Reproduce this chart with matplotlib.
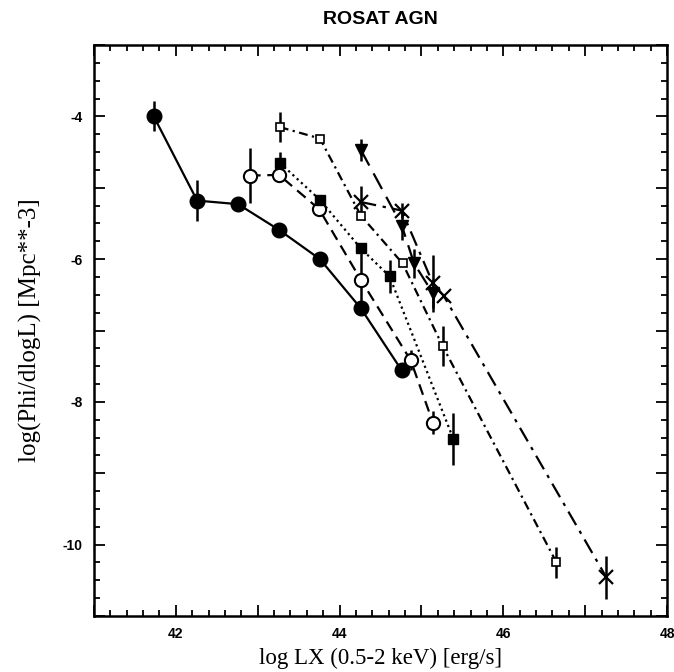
import matplotlib
matplotlib.use("Agg")
import matplotlib.pyplot as plt
from matplotlib.ticker import MultipleLocator, FuncFormatter

# Series 1: filled circles, solid line
x1 = [41.73, 42.26, 42.76, 43.26, 43.76, 44.26, 44.76]
y1 = [-4.00, -5.18, -5.23, -5.59, -6.00, -6.69, -7.56]
e1 = [0.21, 0.29, 0.0, 0.0, 0.0, 0.0, 0.0]

# Series 2: open circles, dashed line
x2 = [42.90, 43.26, 43.75, 44.26, 44.87, 45.14]
y2 = [-4.83, -4.82, -5.30, -6.29, -7.42, -8.29]
e2 = [0.38, 0.0, 0.0, 0.42, 0.14, 0.16]

# Series 3: filled squares, dotted line
x3 = [43.27, 43.76, 44.26, 44.61, 45.39]
y3 = [-4.65, -5.17, -5.85, -6.24, -8.52]
e3 = [0.15, 0.0, 0.0, 0.23, 0.37]

# Series 4: open squares, dash-dot line
x4 = [43.27, 43.76, 44.26, 44.77, 45.26, 46.65]
y4 = [-4.15, -4.31, -5.39, -6.06, -7.22, -10.25]
e4 = [0.21, 0.0, 0.0, 0.0, 0.28, 0.22]

# Series 5: filled down-triangles, long dashed line
x5 = [44.26, 44.76, 44.91, 45.14]
y5 = [-4.47, -5.53, -6.06, -6.48]
e5 = [0.15, 0.20, 0.20, 0.20]

# Series 6: crosses, long dash-dot line
x6 = [44.26, 44.76, 45.14, 45.27, 47.26]
y6 = [-5.20, -5.32, -6.34, -6.51, -10.46]
e6 = [0.22, 0.10, 0.40, 0.0, 0.30]

title = "ROSAT AGN"
xlabel = "log LX (0.5-2 keV) [erg/s]"
ylabel = "log(Phi/dlogL) [Mpc**-3]"

fig = plt.figure(figsize=(6.74, 6.72), dpi=100)
ax = fig.add_axes([94/674, 1-616/672, (667-94)/674, (616-45)/672])

lw = 1.6
series = [
    (x1, y1, e1, dict(marker='o', ms=10.5, mfc='black', mec='black', ls='-')),
    (x2, y2, e2, dict(marker='o', ms=9.5, mfc='white', mec='black', mew=1.5, ls=(0, (5, 3)))),
    (x3, y3, e3, dict(marker='s', ms=6.5, mfc='black', mec='black', ls=(0, (1, 1.6)))),
    (x4, y4, e4, dict(marker='s', ms=6, mfc='white', mec='black', mew=1.2, ls=(0, (4, 2, 1, 2)))),
    (x5, y5, e5, dict(marker='v', ms=9, mfc='black', mec='black', ls=(0, (8, 4)))),
    (x6, y6, e6, dict(marker='x', ms=10, mfc='black', mec='black', mew=1.6, ls=(0, (7, 3, 1.5, 3)))),
]
for x, y, e, st in series:
    ax.errorbar(x, y, yerr=e, color='black', lw=lw, elinewidth=1.8, capsize=0, **st)

ax.set_xlim(41, 48)
ax.set_ylim(-11, -3)

ax.xaxis.set_major_locator(MultipleLocator(1))
ax.xaxis.set_minor_locator(MultipleLocator(0.2))
ax.yaxis.set_major_locator(MultipleLocator(1))
ax.yaxis.set_minor_locator(MultipleLocator(0.25))
fmt = FuncFormatter(lambda v, p: f"{int(round(v))}" if int(round(v)) % 2 == 0 else "")
ax.xaxis.set_major_formatter(fmt)
ax.yaxis.set_major_formatter(fmt)

ax.tick_params(which='both', direction='in', top=True, right=True, width=1.3, color='black')
ax.tick_params(which='major', length=8, pad=8)
ax.tick_params(which='minor', length=4)
for lab in ax.get_xticklabels() + ax.get_yticklabels():
    lab.set_fontfamily('Liberation Sans')
    lab.set_fontweight('bold')
    lab.set_fontsize(10)
for s in ax.spines.values():
    s.set_linewidth(1.8)

ax.set_xlabel(xlabel, family='Liberation Serif', fontsize=16.5, labelpad=5)
ax.set_ylabel(ylabel, family='Liberation Serif', fontsize=18, labelpad=15)
fig.text((94+667)/2/674, 1-19/672, title, family='Liberation Sans', fontweight='bold',
         fontsize=14, ha='center', va='center')

fig.savefig("out.png", dpi=100)
